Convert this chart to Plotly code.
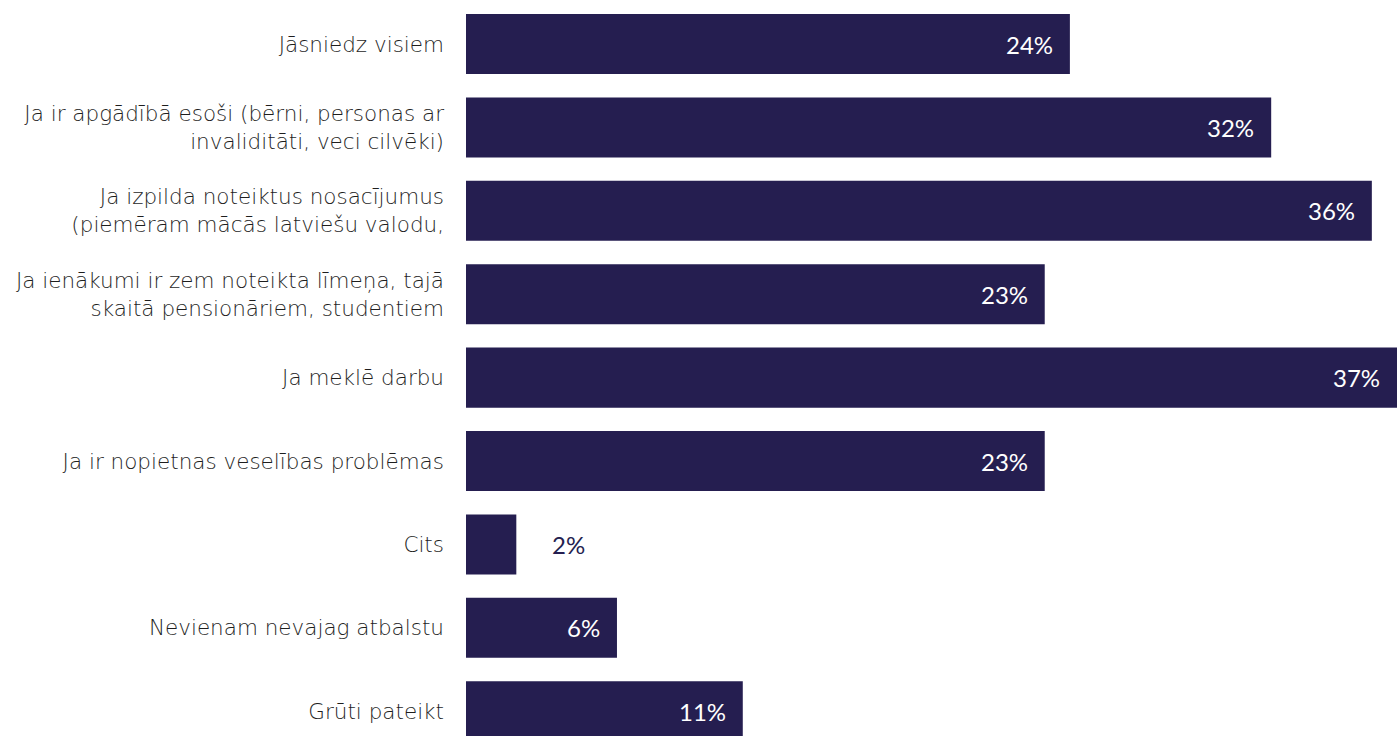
import plotly.graph_objects as go

categories = [
    "Jāsniedz visiem",
    "Ja ir apgādībā esoši (bērni, personas ar<br>invaliditāti, veci cilvēki)",
    "Ja izpilda noteiktus nosacījumus<br>(piemēram mācās latviešu valodu,",
    "Ja ienākumi ir zem noteikta līmeņa, tajā<br>skaitā pensionāriem, studentiem",
    "Ja meklē darbu",
    "Ja ir nopietnas veselības problēmas",
    "Cits",
    "Nevienam nevajag atbalstu",
    "Grūti pateikt",
]
values = [24, 32, 36, 23, 37, 23, 2, 6, 11]

BAR = "#251E50"

fig = go.Figure()
fig.add_trace(go.Bar(
    x=values, y=categories, orientation="h",
    marker=dict(color=BAR, line=dict(width=0)),
    width=0.72, hoverinfo="skip",
))

for c, v in zip(categories, values):
    inside = v >= 5
    fig.add_annotation(
        x=v, y=c, xref="x", yref="y",
        text=f"{v}%", showarrow=False,
        xanchor="right" if inside else "left",
        xshift=-15 if inside else 34,
        font=dict(family="Lato", size=24, color="white" if inside else BAR),
    )

fig.update_layout(
    width=1397, height=736,
    margin=dict(l=466, r=0, t=0, b=0),
    plot_bgcolor="white", paper_bgcolor="white",
    showlegend=False,
    xaxis=dict(range=[0, 37], visible=False, showgrid=False, zeroline=False),
    yaxis=dict(
        type="category",
        range=[8.297, -0.528],
        showgrid=False, zeroline=False, showline=False,
        ticks="", ticklabelstandoff=21,
        tickfont=dict(family="DejaVu Sans", size=21.5, color="#1e1e1e", weight=200),
    ),
)

fig.write_html(
    "out.html",
    config={"displayModeBar": False},
    post_script="document.body.style.margin='0';document.body.style.overflow='hidden';",
)
